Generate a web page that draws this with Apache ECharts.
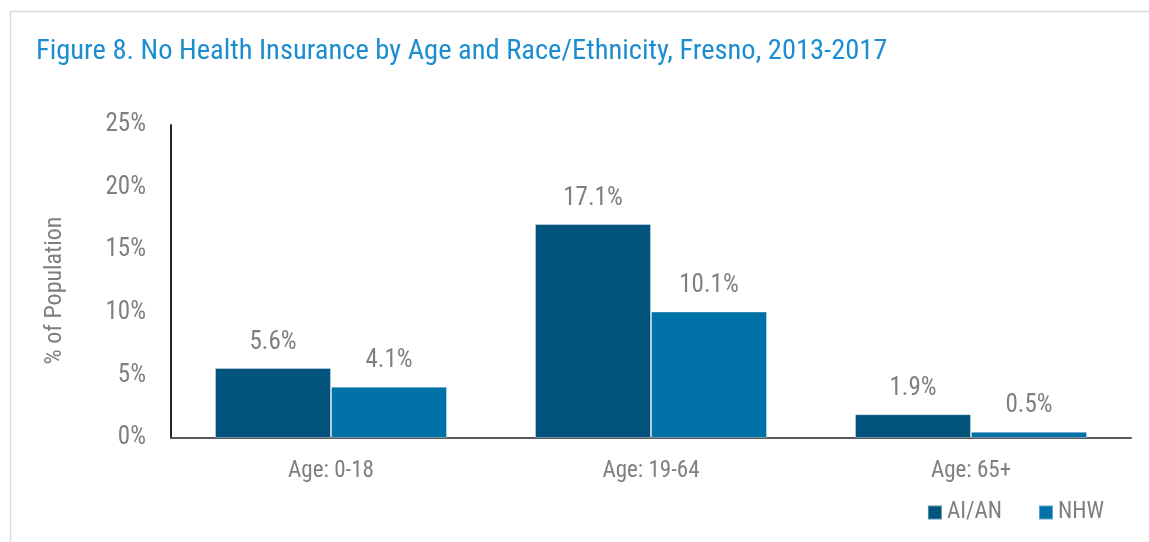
<!DOCTYPE html>
<html>
<head>
<meta charset="utf-8">
<script src="https://cdn.jsdelivr.net/npm/echarts@6/dist/echarts.min.js"></script>
<style>html,body{margin:0;padding:0;background:#fff;}#c{width:1149px;height:542px;}</style>
</head>
<body>
<div id="c"></div>
<script>
const categories = ['Age: 0-18', 'Age: 19-64', 'Age: 65+'];
const aian = [5.6, 17.1, 1.9];
const nhw = [4.1, 10.1, 0.5];
const yTicks = [0, 5, 10, 15, 20, 25];

const FONT = '"Roboto Condensed", "Liberation Sans Narrow", sans-serif';
const chart = echarts.init(document.getElementById('c'), null, {renderer: 'canvas'});
const labelStyle = {show: true, position: 'top', distance: 13, color: '#7f7f7f', fontSize: 25, fontFamily: FONT,
  formatter: p => p.value.toFixed(1) + '%'};
chart.setOption({
  animation: false,
  textStyle: {fontFamily: FONT},
  graphic: [{type: 'rect', shape: {x: 10.5, y: 11.5, width: 1200, height: 600},
    style: {fill: 'none', stroke: '#d9d9d9', lineWidth: 1.5}, silent: true}],
  title: {text: 'Figure 8. No Health Insurance by Age and Race/Ethnicity, Fresno, 2013-2017',
    left: 31, top: 32, textStyle: {color: '#1c8dd0', fontSize: 28.5, fontWeight: 'normal', fontFamily: FONT}},
  legend: {right: 40, bottom: 13, itemWidth: 14, itemHeight: 14, itemGap: 36,
    icon: 'rect', textStyle: {color: '#7f7f7f', fontSize: 23, fontFamily: FONT}, data: ['AI/AN', 'NHW']},
  grid: {left: 171, right: 18, top: 125, bottom: 104, containLabel: false},
  xAxis: {type: 'category', data: categories,
    axisLine: {lineStyle: {color: '#595959', width: 2}}, axisTick: {show: false},
    axisLabel: {color: '#7f7f7f', fontSize: 23, margin: 22, fontFamily: FONT}},
  yAxis: {type: 'value', min: yTicks[0], max: yTicks[yTicks.length - 1], interval: 5,
    name: '% of Population', nameLocation: 'middle', nameGap: 104, nameRotate: 90,
    nameTextStyle: {color: '#7f7f7f', fontSize: 24, fontFamily: FONT, padding: [0, 18, 0, 0]},
    axisLine: {show: true, lineStyle: {color: '#262626', width: 2}}, axisTick: {show: false},
    splitLine: {show: false},
    axisLabel: {color: '#7f7f7f', fontSize: 25, margin: 25, fontFamily: FONT, formatter: v => v + '%'}},
  series: [
    {name: 'AI/AN', type: 'bar', data: aian, barWidth: '36.25%', barGap: '0%',
      itemStyle: {color: '#02547c', borderColor: 'rgba(255,255,255,0.35)', borderWidth: 1}, label: labelStyle},
    {name: 'NHW', type: 'bar', data: nhw, barWidth: '36.25%',
      itemStyle: {color: '#0072a7', borderColor: 'rgba(255,255,255,0.35)', borderWidth: 1}, label: labelStyle}
  ]
});
</script>
</body>
</html>
